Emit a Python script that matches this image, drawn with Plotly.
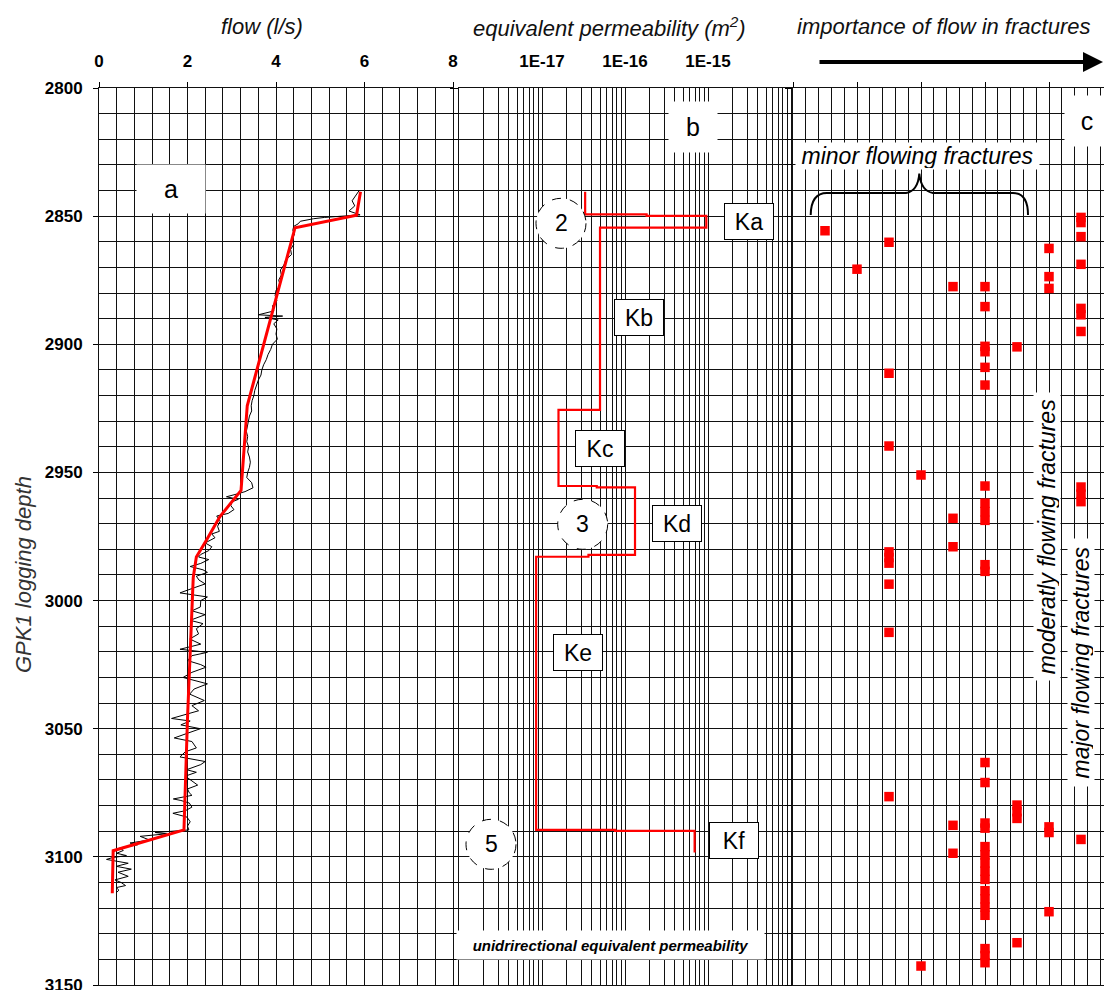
import plotly.graph_objects as go

W, H = 1104, 990
FONT = "Liberation Sans, Arial, sans-serif"


def px(x):
    return x / W


def py(y):
    return 1 - y / H


# ---------------- data ----------------
# panel a : flow log (l/s) vs depth
flow_depth = [2840.0, 2842.0, 2844.0, 2846.0, 2848.0, 2849.5, 2850.0, 2850.5, 2851.0, 2851.5,
              2852.0, 2853.0, 2854.0, 2855.5, 2857.0, 2859.0, 2861.0, 2863.0, 2865.0, 2867.0,
              2869.0, 2871.0, 2873.0, 2875.0, 2877.0, 2879.0, 2881.0, 2883.0, 2885.0, 2887.0,
              2888.5, 2889.0, 2889.5, 2890.5, 2892.0, 2894.0, 2896.0, 2898.0, 2900.0, 2902.0,
              2904.0, 2906.0, 2908.0, 2910.0, 2912.0, 2914.0, 2916.0, 2918.0, 2920.0, 2922.0,
              2924.0, 2926.0, 2928.0, 2930.0, 2932.0, 2934.0, 2936.0, 2938.0, 2940.0, 2942.0,
              2944.0, 2946.0, 2948.0, 2950.0, 2952.0, 2954.0, 2956.0, 2957.5, 2958.5, 2959.5,
              2960.5, 2961.5, 2963.0, 2964.5, 2966.0, 2967.0, 2969.0, 2971.0, 2973.0, 2974.0,
              2975.5, 2977.5, 2979.0, 2980.5, 2982.0, 2983.0, 2984.0, 2985.5, 2986.7, 2988.0,
              2989.0, 2990.5, 2992.0, 2993.5, 2995.0, 2997.0, 2998.6, 3000.0, 3002.5, 3004.0,
              3005.5, 3007.7, 3009.0, 3011.0, 3013.0, 3015.0, 3017.0, 3019.0, 3020.2, 3021.5,
              3023.4, 3025.0, 3026.0, 3028.0, 3030.0, 3031.5, 3032.5, 3034.5, 3036.5, 3039.0,
              3041.0, 3043.0, 3044.5, 3046.0, 3047.0, 3048.5, 3050.0, 3051.5, 3053.6, 3055.0,
              3057.5, 3059.0, 3061.0, 3062.8, 3064.0, 3066.0, 3067.0, 3068.5, 3070.0, 3072.0,
              3073.5, 3075.0, 3076.0, 3077.4, 3078.0, 3079.0, 3080.6, 3082.0, 3083.0, 3084.5,
              3086.3, 3088.0, 3089.5, 3090.5, 3091.0, 3092.0, 3093.4, 3094.6, 3095.3, 3096.5,
              3097.5, 3098.6, 3099.5, 3100.3, 3101.0, 3102.5, 3103.7, 3104.8, 3106.0, 3107.6,
              3109.0, 3110.0, 3111.2, 3112.0, 3113.0, 3114.0]
flow_log = [5.88, 5.80, 5.72, 5.78, 5.65, 5.90, 5.40, 5.10, 4.85, 4.70,
            4.55, 4.50, 4.40, 4.38, 4.42, 4.36, 4.40, 4.33, 4.35, 4.22,
            4.18, 4.10, 4.12, 4.06, 4.10, 4.00, 3.98, 4.02, 3.92, 3.95,
            3.60, 4.15, 3.75, 4.05, 3.95, 4.02, 4.00, 4.03, 3.92, 3.88,
            3.82, 3.78, 3.72, 3.68, 3.66, 3.60, 3.56, 3.52, 3.50, 3.46,
            3.44, 3.45, 3.40, 3.38, 3.36, 3.33, 3.36, 3.34, 3.38, 3.36,
            3.40, 3.42, 3.40, 3.36, 3.34, 3.45, 3.48, 3.30, 3.10, 2.88,
            3.15, 3.00, 2.98, 3.05, 2.92, 2.66, 2.74, 2.68, 2.72, 2.55,
            2.62, 2.40, 2.55, 2.48, 2.30, 2.25, 2.48, 2.30, 2.06, 2.35,
            2.45, 2.20, 2.26, 2.40, 2.15, 1.83, 2.45, 2.30, 2.29, 2.10,
            2.40, 2.06, 2.35, 2.20, 2.25, 2.05, 2.30, 1.83, 2.45, 2.10,
            2.00, 2.30, 2.42, 2.10, 1.90, 2.25, 2.45, 2.15, 2.05, 2.38,
            2.10, 2.25, 1.95, 1.64, 2.06, 1.85, 2.29, 2.05, 1.70, 2.10,
            2.20, 1.95, 1.83, 2.40, 2.30, 1.98, 2.20, 1.95, 2.06, 2.23,
            2.00, 2.04, 2.10, 1.68, 1.85, 2.04, 2.10, 1.95, 1.67, 1.99,
            2.06, 2.00, 2.03, 1.27, 1.53, 0.93, 1.14, 0.70, 0.87, 0.47,
            0.55, 0.40, 0.62, 0.30, 0.17, 0.66, 0.39, 0.73, 0.43, 0.66,
            0.36, 0.50, 0.60, 0.39, 0.45, 0.39]

# panel a : piecewise linear fit
fit_depth = [2840.5, 2849.6, 2854.5, 2924.0, 2957.0, 2960.7, 2967.3, 2976.4, 2983.0, 2991.0,
             3046.0, 3089.5, 3097.6, 3114.2]
fit_flow = [5.91, 5.82, 4.43, 3.35, 3.21, 3.03, 2.73, 2.43, 2.20, 2.13,
            2.00, 1.92, 0.32, 0.30]

# panel b : equivalent permeability (m2) step profile
perm_depth = [2840.5, 2849.3, 2849.3, 2849.9, 2849.9, 2854.5, 2854.5, 2925.6, 2925.6, 2955.3,
              2955.3, 2955.8, 2955.8, 2982.2, 2982.2, 2982.9, 2982.9, 3089.5, 3089.5, 3089.9,
              3089.9, 3098.3]
perm_k = [3.31e-17, 3.31e-17, 1.82e-16, 1.82e-16, 9.55e-16, 9.55e-16, 5.0e-17, 5.0e-17, 1.58e-17, 1.58e-17,
          4.57e-17, 4.57e-17, 1.32e-16, 1.32e-16, 3.63e-17, 3.63e-17, 8.5e-18, 8.5e-18, 7.6e-17, 7.6e-17,
          6.9e-16, 6.9e-16]

# panel c : flowing fractures (importance class 1..9, depth)
frac_importance = [1,
                   2,
                   3, 3, 3, 3, 3, 3, 3, 3, 3,
                   4, 4,
                   5, 5, 5, 5, 5,
                   6, 6, 6, 6, 6, 6, 6, 6, 6, 6, 6, 6, 6, 6, 6, 6, 6, 6, 6, 6, 6, 6, 6, 6, 6, 6, 6, 6,
                   7, 7, 7, 7, 7,
                   8, 8, 8, 8, 8, 8,
                   9, 9, 9, 9, 9, 9, 9, 9, 9, 9, 9]
frac_depth = [2855.7,
              2870.7,
              2860.2, 2911.3, 2939.7, 2981.0, 2983.2, 2985.4, 2993.6, 3012.4, 3076.5,
              2951.0, 3142.6,
              2877.5, 2967.9, 2979.0, 3087.7, 3098.6,
              2877.5, 2885.3, 2900.8, 2902.9, 2909.0, 2915.9, 2955.3, 2962.0, 2965.3, 2968.7,
              2986.0, 2988.6, 3063.2, 3071.0, 3086.8, 3088.8, 3096.0, 3099.2, 3102.4, 3105.6,
              3108.8, 3113.2, 3116.4, 3119.6, 3122.8, 3135.8, 3138.5, 3141.3,
              2901.0, 3079.8, 3082.4, 3085.0, 3133.5,
              2862.6, 2873.6, 2878.2, 3088.3, 3090.5, 3121.4,
              2850.5, 2852.5, 2858.0, 2868.8, 2886.0, 2888.5, 2895.0, 2955.7, 2958.5, 2961.4, 3093.2]

# ticks
depth_range = [3150, 2800]
flow_range = [0, 8]
perm_decades = [-18, -17, -16, -15, -14]
perm_grid = [m * 10.0 ** e for e in range(-18, -14) for m in range(1, 10)] + [1e-14]
perm_labels = {1e-17: "1E-17", 1e-16: "1E-16", 1e-15: "1E-15"}
perm_text = [next((v for k, v in perm_labels.items() if abs(g - k) / k < 1e-6), "") for g in perm_grid]

# ---------------- figure ----------------
fig = go.Figure()
fig.add_trace(go.Scatter(x=flow_log, y=flow_depth, mode="lines",
                         line=dict(color="black", width=1), xaxis="x", yaxis="y", showlegend=False))
fig.add_trace(go.Scatter(x=fit_flow, y=fit_depth, mode="lines",
                         line=dict(color="#ff0000", width=3), xaxis="x", yaxis="y", showlegend=False))
fig.add_trace(go.Scatter(x=perm_k, y=perm_depth, mode="lines",
                         line=dict(color="#ff0000", width=2.2), xaxis="x2", yaxis="y2", showlegend=False))
fig.add_trace(go.Scatter(x=frac_importance, y=frac_depth, mode="markers",
                         marker=dict(symbol="square", size=9.5, color="#ff0000", line=dict(width=0)),
                         xaxis="x3", yaxis="y3", showlegend=False))

tickfont = dict(family=FONT, size=17, color="black", weight="bold")
ydom = [py(985), py(88)]
gridc = "#111111"

common_y = dict(domain=ydom, range=depth_range, autorange=False, zeroline=False, automargin=False,
                showline=True, linecolor=gridc, linewidth=1, mirror=True,
                showgrid=True, gridcolor=gridc, gridwidth=1, tick0=2800)
common_x = dict(automargin=False, zeroline=False, showline=True, linecolor=gridc, linewidth=1,
                mirror=True, showgrid=True, gridcolor=gridc, gridwidth=1, side="top")

fig.update_layout(
    template="none",
    width=W, height=H, margin=dict(l=0, r=0, t=0, b=0, pad=0),
    paper_bgcolor="white", plot_bgcolor="white", showlegend=False,
    xaxis=dict(domain=[px(99), px(453)], range=flow_range, anchor="y",
               dtick=2, tick0=0, ticks="outside", ticklen=5, tickcolor="black",
               tickfont=tickfont, ticklabelstandoff=8,
               minor=dict(dtick=0.4, tick0=0, showgrid=True, gridcolor=gridc, ticks=""),
               **common_x),
    xaxis2=dict(domain=[px(459), px(791)], type="log", range=[perm_decades[0], perm_decades[-1]],
                anchor="y2", tickmode="array", tickvals=perm_grid, ticktext=perm_text,
                ticks="", tickfont=tickfont, ticklabelstandoff=13, **common_x),
    xaxis3=dict(domain=[px(793), 1.0], range=[0, 311 / 32], anchor="y3",
                dtick=2, tick0=0, ticks="outside", ticklen=5, tickcolor="black",
                showticklabels=False,
                minor=dict(dtick=0.4, tick0=0, showgrid=True, gridcolor=gridc, ticks=""),
                **common_x),
    yaxis=dict(anchor="x", dtick=50, ticks="outside", ticklen=5, tickcolor="black",
               tickfont=tickfont, ticklabelstandoff=7, ticklabeloverflow="allow",
               minor=dict(dtick=10, showgrid=True, gridcolor=gridc, ticks=""), **common_y),
    yaxis2=dict(anchor="x2", dtick=10, ticks="outside", ticklen=8, tickcolor="black",
                showticklabels=False, **common_y),
    yaxis3=dict(anchor="x3", dtick=10, ticks="outside", ticklen=7, tickcolor="black",
                showticklabels=False, **common_y),
)

ann = []
title_font = dict(family=FONT, size=22, color="#111111", style="italic")
ann.append(dict(x=px(262), y=py(27), text="flow (l/s)", font=title_font))
ann.append(dict(x=px(609), y=py(27), text="equivalent permeability (m<sup>2</sup>)", font=title_font))
ann.append(dict(x=px(943), y=py(27), text="importance of flow in fractures", font=title_font))
ann.append(dict(x=px(23), y=py(575), text="GPK1 logging depth", textangle=-90,
                font=dict(family=FONT, size=22, color="#333333", style="italic")))

# panel letters on white patches
letter_font = dict(family=FONT, size=25, color="black")
ann.append(dict(x=px(171), y=py(189), text="a", font=letter_font, bgcolor="white", width=66, height=46))
ann.append(dict(x=px(693), y=py(127), text="b", font=letter_font, bgcolor="white", width=46, height=48))
ann.append(dict(x=px(1087), y=py(121), text="c", font=letter_font, bgcolor="white", width=42, height=48))

# K boxes
kfont = dict(family=FONT, size=23, color="black")
k_boxes = [("Ka", 749.3, 221.3), ("Kb", 638.7, 317.8), ("Kc", 599.7, 448.7),
           ("Kd", 677.3, 523.3), ("Ke", 577.5, 652.0), ("Kf", 733.7, 840.0)]
for t, cx, cy in k_boxes:
    ann.append(dict(x=px(cx), y=py(cy), text=t, font=kfont, bgcolor="white",
                    bordercolor="black", borderwidth=1, width=48, height=35, borderpad=0))

# circled numbers
circles = [("2", 561.0, 223.3), ("3", 582.7, 524.3), ("5", 491.0, 844.3)]
shapes = []
for t, cx, cy in circles:
    shapes.append(dict(type="circle", xref="paper", yref="paper",
                       x0=px(cx - 25), x1=px(cx + 25), y0=py(cy + 25), y1=py(cy - 25),
                       line=dict(color="black", width=1, dash="dash"), fillcolor="white",
                       layer="above"))
    ann.append(dict(x=px(cx), y=py(cy), text=t, font=kfont))

ann.append(dict(x=px(610.5), y=py(945), text="unidrirectional equivalent permeability",
                font=dict(family=FONT, size=15, color="black", style="italic", weight="bold"),
                bgcolor="white", width=305, height=26))

ifont = dict(family=FONT, size=23, color="black", style="italic")
ann.append(dict(x=px(917), y=py(156.5), text="minor flowing fractures", font=ifont,
                bgcolor="white", width=241, height=24))
ann.append(dict(x=px(1047), y=py(537), text="moderatly flowing fractures", font=ifont,
                textangle=-90, bgcolor="white", width=285, height=24))
ann.append(dict(x=px(1081), y=py(663), text="major flowing fractures", font=ifont,
                textangle=-90, bgcolor="white", width=245, height=24))

for a in ann:
    a.setdefault("xref", "paper")
    a.setdefault("yref", "paper")
    a.setdefault("showarrow", False)
    a.setdefault("xanchor", "center")
    a.setdefault("yanchor", "middle")

# arrow of panel c
ann.append(dict(x=px(1109), y=py(62), ax=818 - 1109, ay=0, text="", showarrow=True,
                arrowhead=2, arrowsize=1, arrowwidth=4, arrowcolor="black",
                xref="paper", yref="paper"))

# curly brace
def P(x, y):
    return f"{px(x):.5f},{py(y):.5f}"

brace = ("M " + P(810.7, 215) + " Q " + P(811, 193) + " " + P(827, 193) +
         " L " + P(906, 193) + " Q " + P(918, 191) + " " + P(919.3, 173.5) +
         " Q " + P(921, 191) + " " + P(933, 193) + " L " + P(1013, 193) +
         " Q " + P(1028, 193) + " " + P(1028, 215))
shapes.append(dict(type="path", xref="paper", yref="paper", path=brace,
                   line=dict(color="black", width=2)))

fig.update_layout(annotations=ann, shapes=shapes)
fig.write_html("out.html")
